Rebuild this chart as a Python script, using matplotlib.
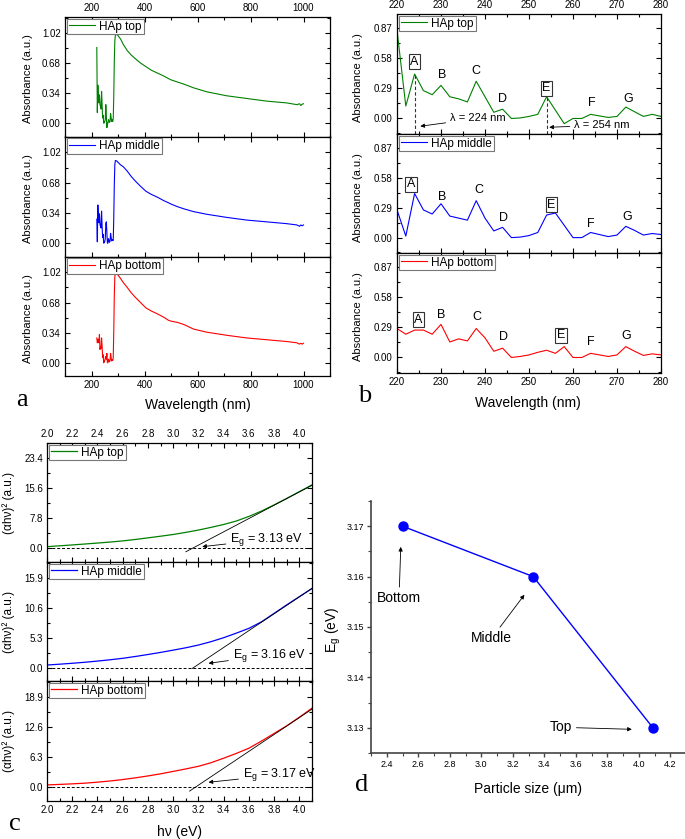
import numpy as np
import matplotlib.pyplot as plt
from matplotlib.ticker import MultipleLocator, FormatStrFormatter

plt.rcParams['font.family'] = ['Liberation Sans', 'DejaVu Sans']
plt.rcParams['mathtext.fontset'] = 'custom'
plt.rcParams['mathtext.rm'] = 'Liberation Sans'
plt.rcParams['mathtext.it'] = 'Liberation Sans:italic'
plt.rcParams['mathtext.default'] = 'regular'

# ── Data ───────
# panel b: zoomed UV region, 2 nm steps
wl_b = list(range(220, 281, 2))
abs_top_b = [0.855, 0.12, 0.43, 0.27, 0.23, 0.32, 0.21, 0.19, 0.16, 0.36, 0.21,
             0.06, 0.09, 0.0, 0.005, 0.02, 0.04, 0.21, 0.08, -0.05, 0.0, 0.0,
             0.04, 0.025, 0.01, 0.02, 0.11, 0.065, 0.02, 0.04, 0.02]
abs_mid_b = [0.27, 0.015, 0.43, 0.27, 0.23, 0.33, 0.21, 0.19, 0.17, 0.36, 0.19,
             0.065, 0.10, 0.0, 0.005, 0.02, 0.05, 0.22, 0.24, 0.12, 0.0, 0.0,
             0.05, 0.03, 0.01, 0.025, 0.11, 0.07, 0.025, 0.04, 0.03]
abs_bot_b = [0.28, 0.225, 0.265, 0.265, 0.225, 0.32, 0.15, 0.18, 0.16, 0.28, 0.19,
             0.06, 0.09, 0.0, 0.01, 0.025, 0.05, 0.07, 0.04, 0.105, 0.0, 0.0,
             0.04, 0.025, 0.01, 0.025, 0.105, 0.06, 0.02, 0.035, 0.025]

# panel a: full spectrum = region above + the rest
tail_wl = [282, 284, 286, 288, 290, 295, 300, 310, 320, 335, 350, 365, 385, 405,
           425, 450, 475, 490, 500, 525, 550, 585, 635, 710, 785, 860, 935, 975,
           985, 990, 995, 1000]
tail_top = [0.05, 0.30, 0.70, 0.93, 0.99, 1.01, 0.99, 0.95, 0.89, 0.82, 0.77, 0.73,
            0.68, 0.64, 0.60, 0.565, 0.53, 0.505, 0.49, 0.465, 0.44, 0.40, 0.355,
            0.31, 0.28, 0.25, 0.23, 0.21, 0.22, 0.20, 0.215, 0.22]
tail_mid = [0.03, 0.28, 0.65, 0.88, 0.93, 0.925, 0.91, 0.88, 0.86, 0.81, 0.75, 0.70,
            0.64, 0.585, 0.55, 0.515, 0.475, 0.455, 0.44, 0.41, 0.385, 0.355, 0.325,
            0.29, 0.26, 0.24, 0.22, 0.205, 0.19, 0.205, 0.195, 0.205]
tail_bot = [0.05, 0.35, 0.75, 0.97, 1.02, 1.0, 0.99, 0.95, 0.905, 0.85, 0.79, 0.74,
            0.68, 0.62, 0.585, 0.55, 0.51, 0.48, 0.47, 0.455, 0.43, 0.38, 0.345,
            0.31, 0.28, 0.26, 0.24, 0.225, 0.21, 0.22, 0.21, 0.22]

# panel c: Tauc plots
hv = [2.0, 2.1, 2.2, 2.3, 2.4, 2.5, 2.6, 2.7, 2.8, 2.9, 3.0, 3.1, 3.2, 3.3, 3.4,
      3.5, 3.6, 3.7, 3.8, 3.9, 4.0, 4.1]
tauc_top = [0.43, 0.65, 0.88, 1.12, 1.37, 1.63, 1.93, 2.3, 2.72, 3.15, 3.6, 4.15,
            4.75, 5.45, 6.2, 7.1, 8.3, 9.7, 11.3, 13.0, 14.75, 16.5]
tauc_mid = [0.47, 0.62, 0.78, 0.96, 1.17, 1.4, 1.66, 1.98, 2.33, 2.7, 3.1, 3.52,
            4.0, 4.6, 5.3, 6.1, 6.95, 8.1, 9.6, 11.1, 12.55, 14.0]
tauc_bot = [0.49, 0.6, 0.72, 0.86, 1.07, 1.32, 1.62, 1.98, 2.38, 2.82, 3.33, 3.85,
            4.4, 5.15, 6.1, 7.1, 8.2, 9.7, 11.3, 12.9, 14.7, 16.6]
fit_x = [[3.10, 4.10], [3.15, 4.10], [3.13, 4.10]]
fit_y = [[-0.9, 16.4], [-0.15, 14.0], [-0.8, 16.4]]
eg_text = ["3.13", "3.16", "3.17"]

# panel d
particle_size = [2.5, 3.33, 4.09]
band_gap = [3.17, 3.16, 3.13]
size_names = ["Bottom", "Middle", "Top"]

names = ["HAp top", "HAp middle", "HAp bottom"]
colors = ["#008000", "#0000FF", "#FF0000"]

W, H = 685, 839
fig = plt.figure(figsize=(W / 100, H / 100), dpi=100)


def box(l, t, r, b):
    return [l / W, 1 - b / H, (r - l) / W, (b - t) / H]


def style(ax, xmaj, xmin, yticks, ymin, yfmt, top_lab=False, bot_lab=False):
    ax.xaxis.set_major_locator(MultipleLocator(xmaj))
    ax.xaxis.set_minor_locator(MultipleLocator(xmin))
    ax.set_yticks(yticks)
    ax.yaxis.set_minor_locator(MultipleLocator(ymin))
    ax.yaxis.set_major_formatter(FormatStrFormatter(yfmt))
    ax.tick_params(which='both', direction='in', top=True, right=True,
                   labelsize=7, pad=3, labeltop=top_lab, labelbottom=bot_lab)
    ax.tick_params(which='major', length=3.5, width=0.8)
    ax.tick_params(which='minor', length=2, width=0.8)
    for s in ax.spines.values():
        s.set_linewidth(0.9)


def add_legend(ax):
    leg = ax.legend(loc='upper left', fontsize=8.5, fancybox=False,
                    edgecolor='#777777', framealpha=1, borderpad=0.15,
                    borderaxespad=0.15, handlelength=2.2, handletextpad=0.4)
    leg.get_frame().set_linewidth(0.8)


arrow = dict(arrowstyle='-|>', color='black', lw=0.6, mutation_scale=6,
             shrinkA=1, shrinkB=0)

# ── Panel a ───────
a_tops = [17, 136.5, 256.5, 376]
a_series = [abs_top_b + tail_top, abs_mid_b + tail_mid, abs_bot_b + tail_bot]
wl_a = wl_b + tail_wl
for i in range(3):
    ax = fig.add_axes(box(65, a_tops[i], 330, a_tops[i + 1]))
    ax.plot(wl_a, a_series[i], color=colors[i], lw=0.8, label=names[i])
    ax.set_xlim(100, 1100)
    ax.set_ylim(-0.15, 1.2)
    style(ax, 200, 100, [0, 0.34, 0.68, 1.02], 0.17, '%.2f',
          top_lab=(i == 0), bot_lab=(i == 2))
    add_legend(ax)
    fig.text(28 / W, 1 - ((a_tops[i] + a_tops[i + 1]) / 2 + 2) / H,
             "Absorbance (a.u.)", rotation=90, ha='center', va='center', fontsize=8)
fig.text(197.5 / W, 1 - 405 / H, "Wavelength (nm)", ha='center', va='center', fontsize=10)

# ── Panel b ───────
b_tops = [14, 134, 253, 373]
b_series = [abs_top_b, abs_mid_b, abs_bot_b]
peak_names = ["A", "B", "C", "D", "E", "F", "G"]
peak_x = [[224, 230.2, 238, 244, 254, 264.3, 272.6],
          [223.2, 230.2, 238.6, 244.1, 255.1, 264.1, 272.4],
          [224.9, 230, 238.2, 244.2, 257.3, 264.1, 272.1]]
peak_y = [[0.55, 0.42, 0.46, 0.19, 0.29, 0.145, 0.19],
          [0.52, 0.40, 0.46, 0.19, 0.32, 0.13, 0.20],
          [0.365, 0.41, 0.39, 0.20, 0.215, 0.145, 0.21]]
boxed = ["A", "E"]
for i in range(3):
    ax = fig.add_axes(box(397, b_tops[i], 661, b_tops[i + 1]))
    ax.plot(wl_b, b_series[i], color=colors[i], lw=0.8, label=names[i])
    ax.set_xlim(220, 280)
    ax.set_ylim(-0.15, 1.01)
    style(ax, 10, 5, [0, 0.29, 0.58, 0.87], 0.145, '%.2f',
          top_lab=(i == 0), bot_lab=(i == 2))
    add_legend(ax)
    for lab, x, y in zip(peak_names, peak_x[i], peak_y[i]):
        bb = None
        if lab in boxed:
            bb = dict(boxstyle='square,pad=0.12', fc='none', ec='#333333', lw=0.8)
        ax.text(x, y, lab, ha='center', va='center', fontsize=9, bbox=bb)
    if i == 0:
        for lam, tx, ty, hx, hy in [(224, 232.0, 0.0, 225.3, -0.075),
                                    (254, 260.2, -0.065, 254.6, -0.085)]:
            ax.vlines(lam, -0.15, b_series[0][wl_b.index(lam)], colors='#333333',
                      linestyles=(0, (3, 2)), lw=0.8)
            ax.annotate(f"λ = {lam} nm", xy=(hx, hy), xytext=(tx, ty),
                        ha='left', va='center', fontsize=8, arrowprops=arrow)
    fig.text(358 / W, 1 - ((b_tops[i] + b_tops[i + 1]) / 2 + 4) / H,
             "Absorbance (a.u.)", rotation=90, ha='center', va='center', fontsize=8)
fig.text(528 / W, 1 - 403 / H, "Wavelength (nm)", ha='center', va='center', fontsize=10)

# ── Panel c ───────
c_tops = [443, 562, 681, 801]
c_series = [tauc_top, tauc_mid, tauc_bot]
c_ylims = [(-3.56, 27.4), (-2.35, 18.67), (-2.88, 22.3)]
c_ticks = [[0, 7.8, 15.6, 23.4], [0, 5.3, 10.6, 15.9], [0, 6.3, 12.6, 18.9]]
eg_pos = [(3.45, 2.3, 3.23, 0.43), (3.47, 2.24, 3.28, 0.77), (3.55, 2.6, 3.28, 1.05)]
for i in range(3):
    ax = fig.add_axes(box(47, c_tops[i], 312, c_tops[i + 1]))
    ax.plot(hv, c_series[i], color=colors[i], lw=0.9, label=names[i])
    ax.plot(fit_x[i], fit_y[i], color='black', lw=0.6)
    ax.axhline(0, color='black', lw=0.7, ls=(0, (3, 2)))
    ax.set_xlim(2.0, 4.1)
    ax.set_ylim(*c_ylims[i])
    t = c_ticks[i]
    style(ax, 0.2, 0.1, t, t[1] / 2, '%.1f', top_lab=(i == 0), bot_lab=(i == 2))
    add_legend(ax)
    tx, ty, hx, hy = eg_pos[i]
    ax.annotate(f"E$_g$ = {eg_text[i]} eV", xy=(hx, hy), xytext=(tx, ty),
                ha='left', va='center', fontsize=9, arrowprops=arrow)
    fig.text(9 / W, 1 - (c_tops[i] + c_tops[i + 1]) / 2 / H,
             "(αhν)² (a.u.)", rotation=90, ha='center', va='center', fontsize=8.5)
fig.text(179.5 / W, 1 - 832 / H, "hν (eV)", ha='center', va='center', fontsize=10)

# ── Panel d ───────
ax = fig.add_axes(box(371, 501, 686, 753))
ax.plot(particle_size, band_gap, color='#0000FF', lw=1.0, marker='o',
        markersize=6.5, markerfacecolor='#0000FF', markeredgecolor='#0000FF')
ax.set_xlim(2.3, 4.3)
ax.set_ylim(3.125, 3.175)
ax.xaxis.set_major_locator(MultipleLocator(0.2))
ax.xaxis.set_minor_locator(MultipleLocator(0.1))
ax.yaxis.set_major_locator(MultipleLocator(0.01))
ax.yaxis.set_minor_locator(MultipleLocator(0.005))
ax.xaxis.set_major_formatter(FormatStrFormatter('%.1f'))
ax.yaxis.set_major_formatter(FormatStrFormatter('%.2f'))
ax.spines[['top', 'right']].set_visible(False)
for s in ['left', 'bottom']:
    ax.spines[s].set_color('#444444')
    ax.spines[s].set_linewidth(1.2)
ax.tick_params(which='both', direction='out', labelsize=6.5, pad=2, color='#444444')
ax.tick_params(which='major', length=3, width=1.0)
ax.tick_params(which='minor', length=2, width=0.8)
d_text = [(2.478, 3.1557), (3.067, 3.1478), (3.507, 3.1301)]
d_head = [(2.489, 3.1659), (3.274, 3.1564), (3.956, 3.1297)]
for name, tp, hp in zip(size_names, d_text, d_head):
    ax.annotate(name, xy=hp, xytext=tp, ha='center', va='center', fontsize=10,
                arrowprops=arrow)
fig.text(333 / W, 1 - 630 / H, "E$_g$ (eV)", rotation=90, ha='center', va='center',
         fontsize=10)
fig.text(528 / W, 1 - 789 / H, "Particle size (μm)", ha='center', va='center',
         fontsize=10)

# panel letters
for lab, x, y in [("a", 22, 400), ("b", 365, 396), ("c", 15, 824), ("d", 362, 785)]:
    fig.text(x / W, 1 - y / H, lab, ha='center', va='center', fontsize=19,
             family='Liberation Serif')

plt.savefig("out.png", dpi=100)
